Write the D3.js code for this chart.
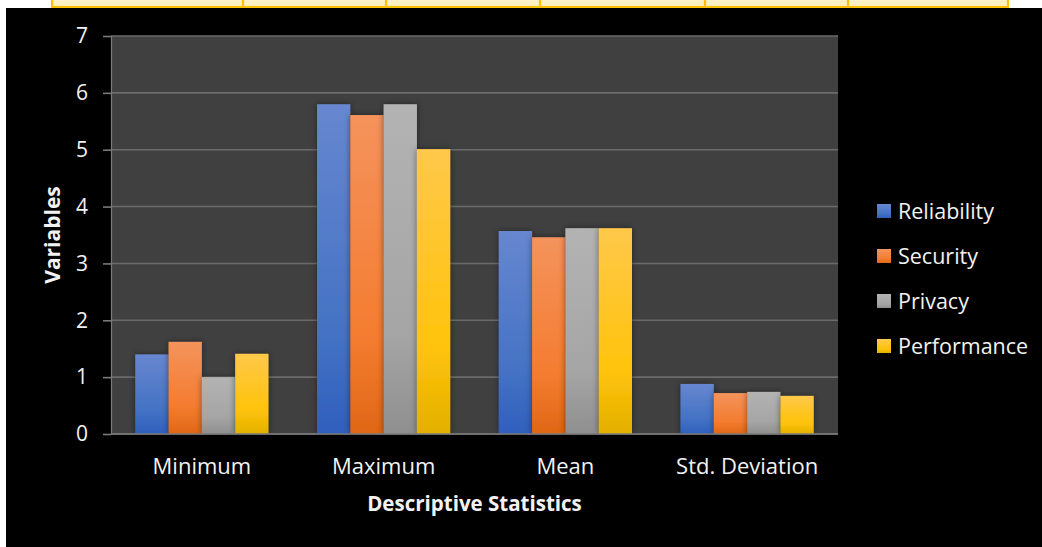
<!DOCTYPE html>
<html><head><meta charset="utf-8">
<script src="https://cdn.jsdelivr.net/npm/d3@7"></script>
<style>html,body{margin:0;padding:0;background:#fff;}svg{display:block;}</style>
</head><body>
<script>
const categories = ["Minimum", "Maximum", "Mean", "Std. Deviation"];
const seriesNames = ["Reliability", "Security", "Privacy", "Performance"];
const reliability = [1.4, 5.8, 3.57, 0.88];
const security = [1.62, 5.61, 3.46, 0.72];
const privacy = [1.0, 5.8, 3.62, 0.74];
const performance = [1.41, 5.01, 3.62, 0.67];
const yTicks = [0, 1, 2, 3, 4, 5, 6, 7];
const tableDividers = [243, 386, 540, 705, 848];

(function(){
const seriesValues = [reliability, security, privacy, performance];
const colors = [
  {top:"#6787d0", mid:"#4472c4", bot:"#2f5fbd"},
  {top:"#f4935c", mid:"#f47c30", bot:"#df6716"},
  {top:"#b3b3b3", mid:"#a5a5a5", bot:"#8f8f8f"},
  {top:"#ffc84a", mid:"#ffc30a", bot:"#e3b000"}
];

const W = 1042, H = 547;
const svg = d3.select("body").append("svg").attr("width", W).attr("height", H);
const defs = svg.append("defs");
colors.forEach((c, i) => {
  const g = defs.append("linearGradient").attr("id", "g" + i).attr("x1", 0).attr("y1", 0).attr("x2", 0).attr("y2", 1);
  g.append("stop").attr("offset", "0%").attr("stop-color", c.top);
  g.append("stop").attr("offset", "70%").attr("stop-color", c.mid);
  g.append("stop").attr("offset", "100%").attr("stop-color", c.bot);
});
const f = defs.append("filter").attr("id", "sh").attr("x", "-30%").attr("y", "-10%").attr("width", "160%").attr("height", "120%");
f.append("feDropShadow").attr("dx", 0).attr("dy", 0).attr("stdDeviation", 3).attr("flood-color", "#000").attr("flood-opacity", 0.45);

svg.append("rect").attr("x", 0).attr("y", 0).attr("width", W).attr("height", H).attr("fill", "#fff");
svg.append("rect").attr("x", 52).attr("y", -3).attr("width", 956).attr("height", 10)
  .attr("fill", "#fff0c4").attr("stroke", "#ffc000").attr("stroke-width", 2.2);
tableDividers.forEach(x => svg.append("line").attr("x1", x).attr("x2", x).attr("y1", 0).attr("y2", 8)
  .attr("stroke", "#ffc000").attr("stroke-width", 2.2));

svg.append("rect").attr("x", 6).attr("y", 8).attr("width", W - 6).attr("height", H - 8).attr("fill", "#000");

const pL = 111, pR = 838, pT = 36, pB = 434;
const x0 = d3.scaleBand().domain(categories).range([pL, pR]).paddingInner(0).paddingOuter(0);
const groupW = x0.bandwidth() * 0.733;
const x1 = d3.scaleBand().domain(seriesNames).range([0, groupW]).padding(0);
const y = d3.scaleLinear().domain([0, 7]).range([pB, pT]);

svg.append("rect").attr("x", pL).attr("y", pT).attr("width", pR - pL).attr("height", pB - pT).attr("fill", "#404040");

svg.append("g").selectAll("line").data(yTicks).join("line")
  .attr("x1", pL).attr("x2", pR).attr("y1", d => y(d)).attr("y2", d => y(d))
  .attr("stroke", "#6b6b6b").attr("stroke-width", 1.6);

const font = "'Open Sans', Lato, sans-serif";
const yAxis = d3.axisLeft(y).tickValues(yTicks).tickSize(8).tickPadding(15).tickFormat(d3.format("d"));
const ya = svg.append("g").attr("transform", `translate(${pL},0)`).call(yAxis);
ya.select(".domain").attr("stroke", "#7a7a7a").attr("stroke-width", 1.2);
ya.selectAll(".tick line").attr("stroke", "#7a7a7a").attr("stroke-width", 1.6);
ya.selectAll("text").attr("fill", "#f2f2f2").attr("font-family", font).attr("font-size", 21);

const groups = svg.append("g").selectAll("g").data(categories).join("g")
  .attr("transform", d => `translate(${x0(d) + (x0.bandwidth() - groupW) / 2},0)`);
groups.selectAll("rect").data((d, ci) => seriesNames.map((s, si) => ({s, si, v: seriesValues[si][ci]}))).join("rect")
  .attr("x", d => x1(d.s)).attr("width", x1.bandwidth())
  .attr("y", d => y(d.v)).attr("height", d => y(0) - y(d.v))
  .attr("fill", d => `url(#g${d.si})`).attr("filter", "url(#sh)");

svg.append("line").attr("x1", pL).attr("x2", pR).attr("y1", y(0)).attr("y2", y(0)).attr("stroke", "#7a7a7a").attr("stroke-width", 1.6);
const xAxis = d3.axisBottom(x0).tickSize(0).tickPadding(0);
const xa = svg.append("g").attr("transform", `translate(0,${pB})`).call(xAxis);
xa.select(".domain").remove();
xa.selectAll("text").attr("y", 40).attr("dy", 0).attr("fill", "#f2f2f2").attr("font-family", font).attr("font-size", 22);

svg.append("text").attr("x", (pL + pR) / 2).attr("y", 511).attr("text-anchor", "middle")
  .attr("fill", "#f2f2f2").attr("font-family", font).attr("font-weight", "bold").attr("font-size", 20.5)
  .text("Descriptive Statistics");
svg.append("text").attr("transform", "translate(60,235) rotate(-90)").attr("text-anchor", "middle")
  .attr("fill", "#f2f2f2").attr("font-family", font).attr("font-weight", "bold").attr("font-size", 21)
  .text("Variables");

const lg = svg.append("g").selectAll("g").data(seriesNames).join("g")
  .attr("transform", (d, i) => `translate(877,${211 + i * 45})`);
lg.append("rect").attr("x", 0).attr("y", -7).attr("width", 14).attr("height", 14).attr("fill", (d, i) => `url(#g${i})`);
lg.append("text").attr("x", 21).attr("y", 0).attr("dy", "0.36em").attr("fill", "#f2f2f2")
  .attr("font-family", font).attr("font-size", 21.5).text(d => d);
})();
</script>
</body></html>
